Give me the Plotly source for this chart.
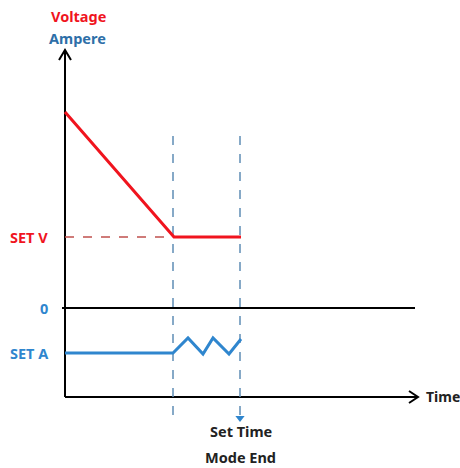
import plotly.graph_objects as go

# Schematic units: time t (0 at vertical axis), level y (0 at zero line)
volt_t = [0, 109, 176]
volt_y = [196, 71, 71]
amp_t = [0, 108, 123, 138, 148, 164, 176]
amp_y = [-45, -45, -30, -46, -30, -46, -31]
set_v = 71
set_a = -45
t_knee = 109
t_set = 175
axis_y = -89          # level where time axis sits
y_axis_top = 258
t_axis_end = 353
zero_line_t = [-3, 350]
guide_top = 172
guide_bottom = -108

RED = "#F0141E"
BLUE = "#2F86CE"
DBLUE = "#2E6FA8"
GUIDE = "#5F8DB5"
FONT = "Noto Sans"

fig = go.Figure()

# axes
fig.add_trace(go.Scatter(x=[0, 0], y=[y_axis_top, axis_y], mode="lines",
                         line=dict(color="black", width=2), hoverinfo="skip"))
fig.add_trace(go.Scatter(x=[0, t_axis_end], y=[axis_y, axis_y], mode="lines",
                         line=dict(color="black", width=2), hoverinfo="skip"))
# arrow chevrons
fig.add_trace(go.Scatter(x=[-6, 0, 6], y=[y_axis_top - 10, y_axis_top, y_axis_top - 10],
                         mode="lines", line=dict(color="black", width=2), hoverinfo="skip"))
fig.add_trace(go.Scatter(x=[t_axis_end - 9, t_axis_end, t_axis_end - 9],
                         y=[axis_y + 6, axis_y, axis_y - 6],
                         mode="lines", line=dict(color="black", width=2), hoverinfo="skip"))
# zero line
fig.add_trace(go.Scatter(x=zero_line_t, y=[0, 0], mode="lines",
                         line=dict(color="black", width=2), hoverinfo="skip"))
# vertical guides
for t in [t_knee - 1, t_set]:
    fig.add_trace(go.Scatter(x=[t, t], y=[guide_top, guide_bottom], mode="lines",
                             line=dict(color=GUIDE, width=1.5, dash="dash"), hoverinfo="skip"))
# arrow at set time
fig.add_trace(go.Scatter(x=[t_set], y=[guide_bottom - 2], mode="markers",
                         marker=dict(symbol="triangle-down", size=8, color=BLUE), hoverinfo="skip"))
# SET V dashed
fig.add_trace(go.Scatter(x=[0, t_knee], y=[set_v, set_v], mode="lines",
                         line=dict(color="#C0504D", width=1.3, dash="dash"), hoverinfo="skip"))
# voltage
fig.add_trace(go.Scatter(x=volt_t, y=volt_y, mode="lines",
                         line=dict(color=RED, width=3), hoverinfo="skip"))
# current
fig.add_trace(go.Scatter(x=amp_t, y=amp_y, mode="lines",
                         line=dict(color=BLUE, width=3), hoverinfo="skip"))

def ann(text, x, y, color, xanchor="center", yanchor="middle", size=14.5):
    fig.add_annotation(x=x, y=y, text="<b>%s</b>" % text, showarrow=False,
                       xanchor=xanchor, yanchor=yanchor, borderpad=0,
                       font=dict(family=FONT, size=size, color=color))

ann("Voltage", 13, 292, RED)
ann("Ampere", 12, 270, DBLUE)
ann("SET V", -16, set_v, RED, "right")
ann("0", -16, 0, BLUE, "right")
ann("SET A", -15, set_a, BLUE, "right")
ann("Time", 360, axis_y + 1, "#222222", "left", size=14)
ann("Set Time", t_set + 1, -123, "#222222")
ann("Mode End", t_set, -160, "#222222", yanchor="bottom")

fig.update_layout(
    width=460, height=468, margin=dict(l=0, r=0, t=0, b=0),
    paper_bgcolor="white", plot_bgcolor="white", showlegend=False,
    xaxis=dict(range=[-65, 395], visible=False, fixedrange=True),
    yaxis=dict(range=[-160, 308], visible=False, fixedrange=True),
)
fig.write_html(
    "out.html",
    config={"displayModeBar": False, "staticPlot": True},
    post_script="document.body.style.margin='0';document.body.style.overflow='hidden';",
)
